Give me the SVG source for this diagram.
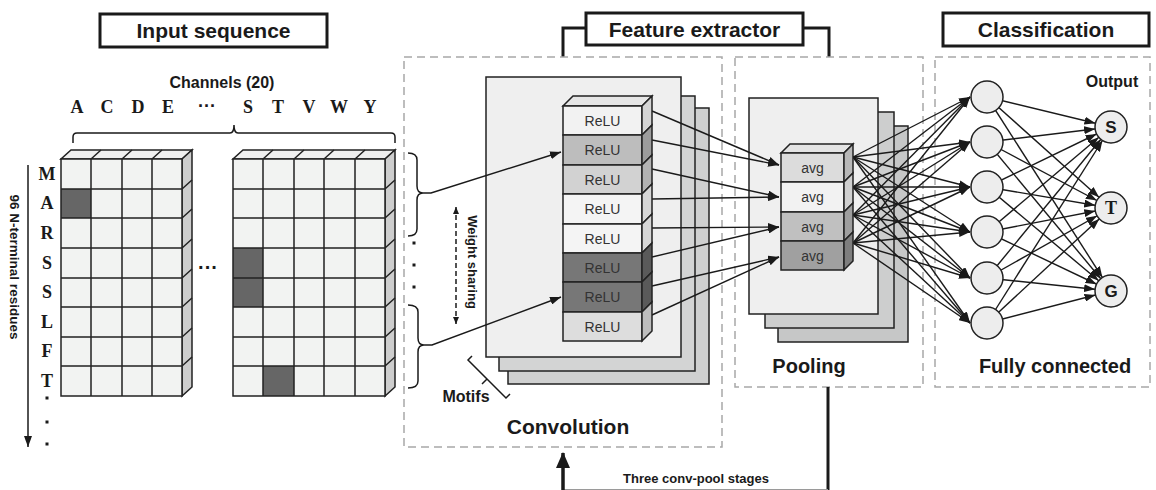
<svg xmlns="http://www.w3.org/2000/svg" width="1156" height="490" viewBox="0 0 1156 490">
<style>
.title{font-family:"Liberation Sans",Arial,sans-serif;font-weight:bold;font-size:21px;fill:#1a1a1a;text-anchor:middle}
.lbl{font-family:"Liberation Sans",Arial,sans-serif;font-weight:bold;fill:#1a1a1a;text-anchor:middle}
.mono{font-family:"Liberation Serif","Times New Roman",serif;font-weight:bold;font-size:18px;fill:#1a1a1a;text-anchor:middle}
.cell{font-family:"Liberation Sans",Arial,sans-serif;font-size:14px;fill:#333;text-anchor:middle}
.tbox{fill:#fff;stroke:#1a1a1a;stroke-width:3}
.dash{fill:none;stroke:#a8a8a8;stroke-width:1.5;stroke-dasharray:8 5}
.ln{fill:none;stroke:#1a1a1a;stroke-width:1.5}
.edge{fill:none;stroke:#1a1a1a;stroke-width:1.4}
.k{stroke:#222;stroke-width:1.5}
.node{fill:#ededed;stroke:#222;stroke-width:1.5}
</style>
<defs>
<marker id="ah" markerUnits="userSpaceOnUse" markerWidth="11" markerHeight="8" refX="11" refY="4" orient="auto"><path d="M0,0 L11,4 L0,8 Z" fill="#1a1a1a"/></marker>
<marker id="ao" markerUnits="userSpaceOnUse" markerWidth="28" markerHeight="8" refX="27" refY="4" orient="auto"><path d="M0,0 L11,4 L0,8 Z" fill="#1a1a1a"/></marker>
<marker id="aw" markerUnits="userSpaceOnUse" markerWidth="7" markerHeight="6" refX="7" refY="3" orient="auto-start-reverse"><path d="M0,0 L7,3 L0,6 Z" fill="#1a1a1a"/></marker>
<marker id="ab" markerUnits="userSpaceOnUse" markerWidth="16" markerHeight="14" refX="15" refY="7" orient="auto"><path d="M0,0 L16,7 L0,14 Z" fill="#1a1a1a"/></marker>
</defs>
<rect width="1156" height="490" fill="#fff"/>

<!-- Titles -->
<g id="title-input"><rect class="tbox" x="100" y="14" width="227" height="33"/><text class="title" x="213.5" y="38">Input sequence</text></g>
<g id="title-feature">
<path d="M563,57 V28 H586 M803,28 H829 V57" fill="none" stroke="#1a1a1a" stroke-width="3"/>
<rect class="tbox" x="586" y="13" width="217" height="32"/><text class="title" x="694.5" y="37">Feature extractor</text></g>
<g id="title-class"><rect class="tbox" x="943" y="13" width="206" height="33"/><text class="title" x="1046" y="37">Classification</text></g>

<!-- Dashed containers -->
<g id="containers">
<rect class="dash" x="404" y="57" width="318" height="390"/>
<rect class="dash" x="735" y="57" width="188" height="330"/>
<rect class="dash" x="935" y="57" width="215" height="330"/>
</g>

<!-- Input sequence -->
<g id="input-sequence">
<text class="lbl" x="222" y="88" font-size="16">Channels (20)</text>
<text class="mono" x="77" y="113">A</text><text class="mono" x="107" y="113">C</text><text class="mono" x="138" y="113">D</text><text class="mono" x="168" y="113">E</text>
<text class="lbl" x="207" y="112" font-size="18">···</text>
<text class="mono" x="248" y="113">S</text><text class="mono" x="278" y="113">T</text><text class="mono" x="309" y="113">V</text><text class="mono" x="339" y="113">W</text><text class="mono" x="370" y="113">Y</text>
<path class="ln" d="M73,143 V137 Q73,133 77,133 H230 Q234,133 234,125 Q234,133 238,133 H391 Q395,133 395,137 V143"/>
<!-- row letters -->
<text class="mono" x="47" y="180">M</text><text class="mono" x="47" y="209">A</text><text class="mono" x="47" y="239">R</text><text class="mono" x="47" y="269">S</text>
<text class="mono" x="47" y="298">S</text><text class="mono" x="47" y="328">L</text><text class="mono" x="47" y="357">F</text><text class="mono" x="47" y="387">T</text>
<rect x="45.5" y="396.5" width="3" height="3" fill="#1a1a1a"/><rect x="45.5" y="420.5" width="3" height="3" fill="#1a1a1a"/><rect x="45.5" y="442.5" width="3" height="3" fill="#1a1a1a"/>
<text class="lbl" font-size="13.5" transform="translate(10,267) rotate(90)">96 N-terminal residues</text>
<path class="ln" d="M28,165 V447" marker-end="url(#ah)"/>
<!-- grid 1 -->
<g id="grid1">
<polygon class="k" points="61,159 182,159 192,150 71,150" fill="#f0f0f0"/>
<polygon class="k" points="182,159 192,150 192,387 182,396" fill="#cdcdcd"/>
<rect x="61" y="159" width="121" height="237" fill="#f2f3f2"/>
<rect x="61" y="189" width="30" height="29" fill="#666"/>
<path class="k" fill="none" d="M61,159 H182 V396 H61 Z M91,159 V396 M122,159 V396 M152,159 V396 M61,189 H182 M61,218 H182 M61,248 H182 M61,278 H182 M61,307 H182 M61,337 H182 M61,366 H182 M91,159 L101,150 M122,159 L132,150 M152,159 L162,150 M182,189 L192,180 M182,218 L192,209 M182,248 L192,239 M182,278 L192,269 M182,307 L192,298 M182,337 L192,328 M182,366 L192,357"/>
</g>
<text class="lbl" x="208" y="274" font-size="20">···</text>
<!-- grid 2 -->
<g id="grid2">
<polygon class="k" points="233,159 385,159 395,150 243,150" fill="#f0f0f0"/>
<polygon class="k" points="385,159 395,150 395,387 385,396" fill="#cdcdcd"/>
<rect x="233" y="159" width="152" height="237" fill="#f2f3f2"/>
<rect x="233" y="248" width="30" height="59" fill="#666"/>
<rect x="263" y="366" width="31" height="30" fill="#666"/>
<path class="k" fill="none" d="M233,159 H385 V396 H233 Z M263,159 V396 M294,159 V396 M324,159 V396 M355,159 V396 M233,189 H385 M233,218 H385 M233,248 H385 M233,278 H385 M233,307 H385 M233,337 H385 M233,366 H385 M263,159 L273,150 M294,159 L304,150 M324,159 L334,150 M355,159 L365,150 M385,189 L395,180 M385,218 L395,209 M385,248 L395,239 M385,278 L395,269 M385,307 L395,298 M385,337 L395,328 M385,366 L395,357"/>
</g>
</g>

<!-- Brackets and annotations near convolution -->
<g id="motif-brackets">
<path class="ln" d="M408,153 Q417,153 417,160 V186 Q417,193 423,193 Q417,193 417,200 V229 Q417,236 408,236"/>
<path class="ln" d="M408,305 Q418,305 418,312 V338 Q418,345 424,345 Q418,345 418,352 V381 Q418,388 408,388"/>
<rect x="412.5" y="241.5" width="3" height="3" fill="#1a1a1a"/><rect x="412.5" y="263.5" width="3" height="3" fill="#1a1a1a"/><rect x="412.5" y="285.5" width="3" height="3" fill="#1a1a1a"/>
</g>
<g id="weight-sharing">
<path d="M456,207 V324" fill="none" stroke="#1a1a1a" stroke-width="1.5" stroke-dasharray="5 3" marker-start="url(#aw)" marker-end="url(#aw)"/>
<text class="lbl" font-size="13" transform="translate(468,262) rotate(90)">Weight sharing</text>
</g>

<!-- Convolution layers -->
<g id="conv-layers">
<rect class="k" x="508" y="108" width="201" height="276" fill="#cfd0d0"/>
<rect class="k" x="499" y="96" width="196" height="275" fill="#d3d4d4"/>
<rect class="k" x="486" y="77" width="195" height="280" fill="#efefef"/>
</g>
<g id="motifs">
<path class="ln" d="M472,356 L468,360 L506,398 L510,394 M487,379 L482,384"/>
<text class="lbl" x="466" y="402" font-size="16">Motifs</text>
</g>
<text class="lbl" x="568" y="434" font-size="21">Convolution</text>

<!-- Pooling layers -->
<g id="pool-layers">
<rect class="k" x="778" y="126" width="130" height="216" fill="#c6c7c7"/>
<rect class="k" x="765" y="112" width="129" height="216" fill="#cdcece"/>
<rect class="k" x="749" y="98" width="129" height="216" fill="#efefef"/>
</g>
<text class="lbl" x="809" y="373" font-size="20">Pooling</text>
<text class="lbl" x="1055" y="373" font-size="20">Fully connected</text>
<text class="lbl" x="1112" y="87" font-size="16">Output</text>

<!-- Connectors -->
<g id="connectors">
<path class="ln" d="M423,193 H431 L561,152" marker-end="url(#ah)"/>
<path class="ln" d="M424,345 H432 L561,297" marker-end="url(#ah)"/>
<g class="edge">
<line x1="652" y1="111" x2="779" y2="165" marker-end="url(#ah)"/>
<line x1="652" y1="140" x2="779" y2="165" marker-end="url(#ah)"/>
<line x1="652" y1="169" x2="779" y2="197" marker-end="url(#ah)"/>
<line x1="652" y1="199" x2="779" y2="197" marker-end="url(#ah)"/>
<line x1="652" y1="228" x2="779" y2="227" marker-end="url(#ah)"/>
<line x1="652" y1="257" x2="779" y2="227" marker-end="url(#ah)"/>
<line x1="652" y1="286" x2="779" y2="257" marker-end="url(#ah)"/>
<line x1="652" y1="315" x2="779" y2="257" marker-end="url(#ah)"/>
</g>
<g class="edge">
<line x1="853" y1="157" x2="970" y2="97" marker-end="url(#ah)"/><line x1="853" y1="157" x2="970" y2="142" marker-end="url(#ah)"/><line x1="853" y1="157" x2="970" y2="187" marker-end="url(#ah)"/><line x1="853" y1="157" x2="970" y2="232" marker-end="url(#ah)"/><line x1="853" y1="157" x2="970" y2="278" marker-end="url(#ah)"/><line x1="853" y1="157" x2="970" y2="323" marker-end="url(#ah)"/>
<line x1="853" y1="187" x2="970" y2="97" marker-end="url(#ah)"/><line x1="853" y1="187" x2="970" y2="142" marker-end="url(#ah)"/><line x1="853" y1="187" x2="970" y2="187" marker-end="url(#ah)"/><line x1="853" y1="187" x2="970" y2="232" marker-end="url(#ah)"/><line x1="853" y1="187" x2="970" y2="278" marker-end="url(#ah)"/><line x1="853" y1="187" x2="970" y2="323" marker-end="url(#ah)"/>
<line x1="853" y1="215" x2="970" y2="97" marker-end="url(#ah)"/><line x1="853" y1="215" x2="970" y2="142" marker-end="url(#ah)"/><line x1="853" y1="215" x2="970" y2="187" marker-end="url(#ah)"/><line x1="853" y1="215" x2="970" y2="232" marker-end="url(#ah)"/><line x1="853" y1="215" x2="970" y2="278" marker-end="url(#ah)"/><line x1="853" y1="215" x2="970" y2="323" marker-end="url(#ah)"/>
<line x1="853" y1="243" x2="970" y2="97" marker-end="url(#ah)"/><line x1="853" y1="243" x2="970" y2="142" marker-end="url(#ah)"/><line x1="853" y1="243" x2="970" y2="187" marker-end="url(#ah)"/><line x1="853" y1="243" x2="970" y2="232" marker-end="url(#ah)"/><line x1="853" y1="243" x2="970" y2="278" marker-end="url(#ah)"/><line x1="853" y1="243" x2="970" y2="323" marker-end="url(#ah)"/>
</g>
<g class="edge">
<line x1="987" y1="97" x2="1111" y2="127" marker-end="url(#ao)"/><line x1="987" y1="97" x2="1111" y2="208" marker-end="url(#ao)"/><line x1="987" y1="97" x2="1111" y2="291" marker-end="url(#ao)"/>
<line x1="987" y1="142" x2="1111" y2="127" marker-end="url(#ao)"/><line x1="987" y1="142" x2="1111" y2="208" marker-end="url(#ao)"/><line x1="987" y1="142" x2="1111" y2="291" marker-end="url(#ao)"/>
<line x1="987" y1="187" x2="1111" y2="127" marker-end="url(#ao)"/><line x1="987" y1="187" x2="1111" y2="208" marker-end="url(#ao)"/><line x1="987" y1="187" x2="1111" y2="291" marker-end="url(#ao)"/>
<line x1="987" y1="232" x2="1111" y2="127" marker-end="url(#ao)"/><line x1="987" y1="232" x2="1111" y2="208" marker-end="url(#ao)"/><line x1="987" y1="232" x2="1111" y2="291" marker-end="url(#ao)"/>
<line x1="987" y1="278" x2="1111" y2="127" marker-end="url(#ao)"/><line x1="987" y1="278" x2="1111" y2="208" marker-end="url(#ao)"/><line x1="987" y1="278" x2="1111" y2="291" marker-end="url(#ao)"/>
<line x1="987" y1="323" x2="1111" y2="127" marker-end="url(#ao)"/><line x1="987" y1="323" x2="1111" y2="208" marker-end="url(#ao)"/><line x1="987" y1="323" x2="1111" y2="291" marker-end="url(#ao)"/>
</g>
<!-- loop back -->
<path d="M828,387 V490" fill="none" stroke="#1a1a1a" stroke-width="3"/>
<path d="M563,489.5 H828" fill="none" stroke="#9a9a9a" stroke-width="1"/>
<path d="M563,490 V453" fill="none" stroke="#1a1a1a" stroke-width="3.5" marker-end="url(#ab)"/>
<text class="lbl" x="696" y="483" font-size="13">Three conv-pool stages</text>
</g>

<!-- ReLU column -->
<g id="relu-column">
<polygon class="k" points="563,106 642,106 652,96 573,96" fill="#e6e6e6"/>
<g id="relu-1"><rect class="k" x="563" y="106" width="79" height="29" fill="#f2f2f2"/><polygon class="k" points="642,106 652,96 652,125 642,135" fill="#d4d4d4"/><text class="cell" x="602.5" y="125.5">ReLU</text></g>
<g id="relu-2"><rect class="k" x="563" y="135" width="79" height="30" fill="#bdbdbd"/><polygon class="k" points="642,135 652,125 652,155 642,165" fill="#9c9c9c"/><text class="cell" x="602.5" y="155">ReLU</text></g>
<g id="relu-3"><rect class="k" x="563" y="165" width="79" height="29" fill="#d2d2d2"/><polygon class="k" points="642,165 652,155 652,184 642,194" fill="#b2b2b2"/><text class="cell" x="602.5" y="184.5">ReLU</text></g>
<g id="relu-4"><rect class="k" x="563" y="194" width="79" height="30" fill="#f4f4f4"/><polygon class="k" points="642,194 652,184 652,214 642,224" fill="#d6d6d6"/><text class="cell" x="602.5" y="214">ReLU</text></g>
<g id="relu-5"><rect class="k" x="563" y="224" width="79" height="29" fill="#f4f4f4"/><polygon class="k" points="642,224 652,214 652,243 642,253" fill="#d6d6d6"/><text class="cell" x="602.5" y="243.5">ReLU</text></g>
<g id="relu-6"><rect class="k" x="563" y="253" width="79" height="29" fill="#777"/><polygon class="k" points="642,253 652,243 652,272 642,282" fill="#5a5a5a"/><text class="cell" x="602.5" y="272.5">ReLU</text></g>
<g id="relu-7"><rect class="k" x="563" y="282" width="79" height="30" fill="#777"/><polygon class="k" points="642,282 652,272 652,302 642,312" fill="#5a5a5a"/><text class="cell" x="602.5" y="302">ReLU</text></g>
<g id="relu-8"><rect class="k" x="563" y="312" width="79" height="29" fill="#dddddd"/><polygon class="k" points="642,312 652,302 652,331 642,341" fill="#bdbdbd"/><text class="cell" x="602.5" y="331.5">ReLU</text></g>
</g>

<!-- avg column -->
<g id="avg-column">
<polygon class="k" points="781,153 844,153 853,144 790,144" fill="#e4e4e4"/>
<g id="avg-1"><rect class="k" x="781" y="153" width="63" height="29" fill="#dcdcdc"/><polygon class="k" points="844,153 853,144 853,173 844,182" fill="#b8b8b8"/><text class="cell" x="812.5" y="172.5">avg</text></g>
<g id="avg-2"><rect class="k" x="781" y="182" width="63" height="30" fill="#f2f2f2"/><polygon class="k" points="844,182 853,173 853,203 844,212" fill="#cfcfcf"/><text class="cell" x="812.5" y="202">avg</text></g>
<g id="avg-3"><rect class="k" x="781" y="212" width="63" height="29" fill="#c0c0c0"/><polygon class="k" points="844,212 853,203 853,232 844,241" fill="#9e9e9e"/><text class="cell" x="812.5" y="231.5">avg</text></g>
<g id="avg-4"><rect class="k" x="781" y="241" width="63" height="29" fill="#a0a0a0"/><polygon class="k" points="844,241 853,232 853,261 844,270" fill="#7e7e7e"/><text class="cell" x="812.5" y="260.5">avg</text></g>
</g>

<!-- Hidden nodes -->
<g id="hidden-1"><circle class="node" cx="987" cy="97" r="16"/></g>
<g id="hidden-2"><circle class="node" cx="987" cy="142" r="16"/></g>
<g id="hidden-3"><circle class="node" cx="987" cy="187" r="16"/></g>
<g id="hidden-4"><circle class="node" cx="987" cy="232" r="16"/></g>
<g id="hidden-5"><circle class="node" cx="987" cy="278" r="16"/></g>
<g id="hidden-6"><circle class="node" cx="987" cy="323" r="16"/></g>

<!-- Output nodes -->
<g id="out-S"><circle class="node" cx="1111" cy="127" r="16"/><text class="lbl" x="1111" y="133" font-size="17">S</text></g>
<g id="out-T"><circle class="node" cx="1111" cy="208" r="16"/><text class="mono" x="1111" y="214" font-size="17">T</text></g>
<g id="out-G"><circle class="node" cx="1111" cy="291" r="16"/><text class="lbl" x="1111" y="297" font-size="17">G</text></g>
</svg>
